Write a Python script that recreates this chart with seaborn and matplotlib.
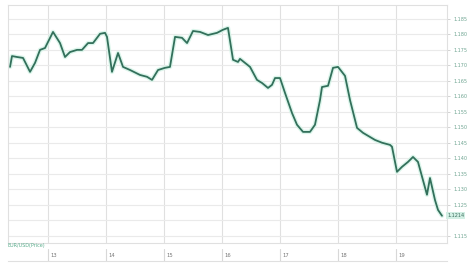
import numpy as np
import pandas as pd
import matplotlib.pyplot as plt
import seaborn as sns

# day position (13 = start of day 13) and price
days = [12.345, 12.379, 12.466, 12.569, 12.690, 12.776, 12.862, 12.948, 13.086, 13.207,
        13.293, 13.379, 13.500, 13.586, 13.690, 13.776, 13.845, 13.897, 13.983, 14.017,
        14.103, 14.207, 14.293, 14.414, 14.586, 14.707, 14.793, 14.897, 15.017, 15.103,
        15.190, 15.310, 15.397, 15.500, 15.621, 15.759, 15.914, 16.017, 16.103, 16.190,
        16.276, 16.310, 16.483, 16.603, 16.690, 16.793, 16.862, 16.914, 17.000, 17.086,
        17.207, 17.293, 17.397, 17.517, 17.603, 17.690, 17.724, 17.828, 17.914, 18.000,
        18.121, 18.207, 18.328, 18.431, 18.638, 18.759, 18.897, 18.931, 19.017, 19.103,
        19.207, 19.293, 19.379, 19.534, 19.586, 19.672, 19.724, 19.793]
price = [1.1695, 1.1730, 1.1727, 1.1724, 1.1679, 1.1708, 1.1750, 1.1756, 1.1808, 1.1772,
         1.1727, 1.1743, 1.1750, 1.1750, 1.1772, 1.1772, 1.1789, 1.1802, 1.1805, 1.1792,
         1.1679, 1.1740, 1.1695, 1.1685, 1.1669, 1.1663, 1.1653, 1.1685, 1.1692, 1.1695,
         1.1792, 1.1789, 1.1772, 1.1811, 1.1808, 1.1798, 1.1805, 1.1815, 1.1821, 1.1718,
         1.1711, 1.1721, 1.1695, 1.1653, 1.1643, 1.1627, 1.1637, 1.1659, 1.1659, 1.1611,
         1.1546, 1.1508, 1.1485, 1.1485, 1.1508, 1.1588, 1.1630, 1.1634, 1.1692, 1.1695,
         1.1666, 1.1588, 1.1498, 1.1482, 1.1459, 1.1450, 1.1443, 1.1437, 1.1356, 1.1372,
         1.1388, 1.1404, 1.1388, 1.1282, 1.1336, 1.1265, 1.1233, 1.1214]
yticks = [1.185, 1.180, 1.175, 1.170, 1.165, 1.160, 1.155, 1.150, 1.145, 1.140,
          1.135, 1.130, 1.125, 1.115]
xdays = [13, 14, 15, 16, 17, 18, 19]
xlabels = ["13", "14", "15", "16", "17", "18", "19"]
last_label = "1.1214"
series_name = "EUR/USD(Price)"

df = pd.DataFrame({"day": days, "price": price})

sns.set_style("white")
W, H = 475, 267
fig = plt.figure(figsize=(W / 100, H / 100), dpi=100)

left, right, top, bottom = 8, 447, 5, 243
ax = fig.add_axes([left / W, 1 - bottom / H, (right - left) / W, (bottom - top) / H])
x0 = 12.31
x1 = 13 + (right - 48) / 58
ax.set_xlim(x0, x1)
ax.set_ylim(1.1126, 1.1895)

for d in xdays:
    ax.axvline(d, color="#e0e0e0", lw=0.8, zorder=0)
for t in yticks + [1.120]:
    ax.axhline(t, color="#eaeaea", lw=0.8, zorder=0)

sns.lineplot(data=df, x="day", y="price", ax=ax, color="#d3f3e6", lw=3.2, alpha=0.8)
sns.lineplot(data=df, x="day", y="price", ax=ax, color="#33705b", lw=1.3)

ax.set_xlabel("")
ax.set_ylabel("")
ax.set_xticks([])
ax.yaxis.tick_right()
ax.set_yticks(yticks)
ax.set_yticklabels([f"{t:.3f}" for t in yticks])
ax.tick_params(axis="y", labelsize=3.5, labelcolor="#6fa592", length=2, pad=3,
               color="#cccccc", width=0.6)
for s in ax.spines.values():
    s.set_color("#e0e0e0")
    s.set_linewidth(0.8)

ax.text(1.0, price[-1], last_label, transform=ax.get_yaxis_transform(),
        fontsize=3.5, color="#3c6e5e", va="center", ha="left",
        bbox=dict(boxstyle="square,pad=0.25", fc="#d2efe4", ec="none"))

fig.text(left / W, 1 - 246 / H, series_name, fontsize=3.5, color="#5cae8e",
         va="center", ha="left")

# day label strip
ax2 = fig.add_axes([left / W, 1 - 261 / H, (right - left) / W, 12 / H])
ax2.set_xlim(x0, x1)
ax2.set_ylim(0, 1)
for d, lab in zip(xdays, xlabels):
    ax2.axvline(d, color="#d8d8d8", lw=0.8)
    ax2.text(d + 0.05, 0.45, lab, fontsize=3.8, color="#777777", va="center", ha="left")
ax2.set_xticks([])
ax2.set_yticks([])
for s in ["left", "right", "top"]:
    ax2.spines[s].set_visible(False)
ax2.spines["bottom"].set_color("#e0e0e0")

fig.savefig("out.png", dpi=100, facecolor="white")
